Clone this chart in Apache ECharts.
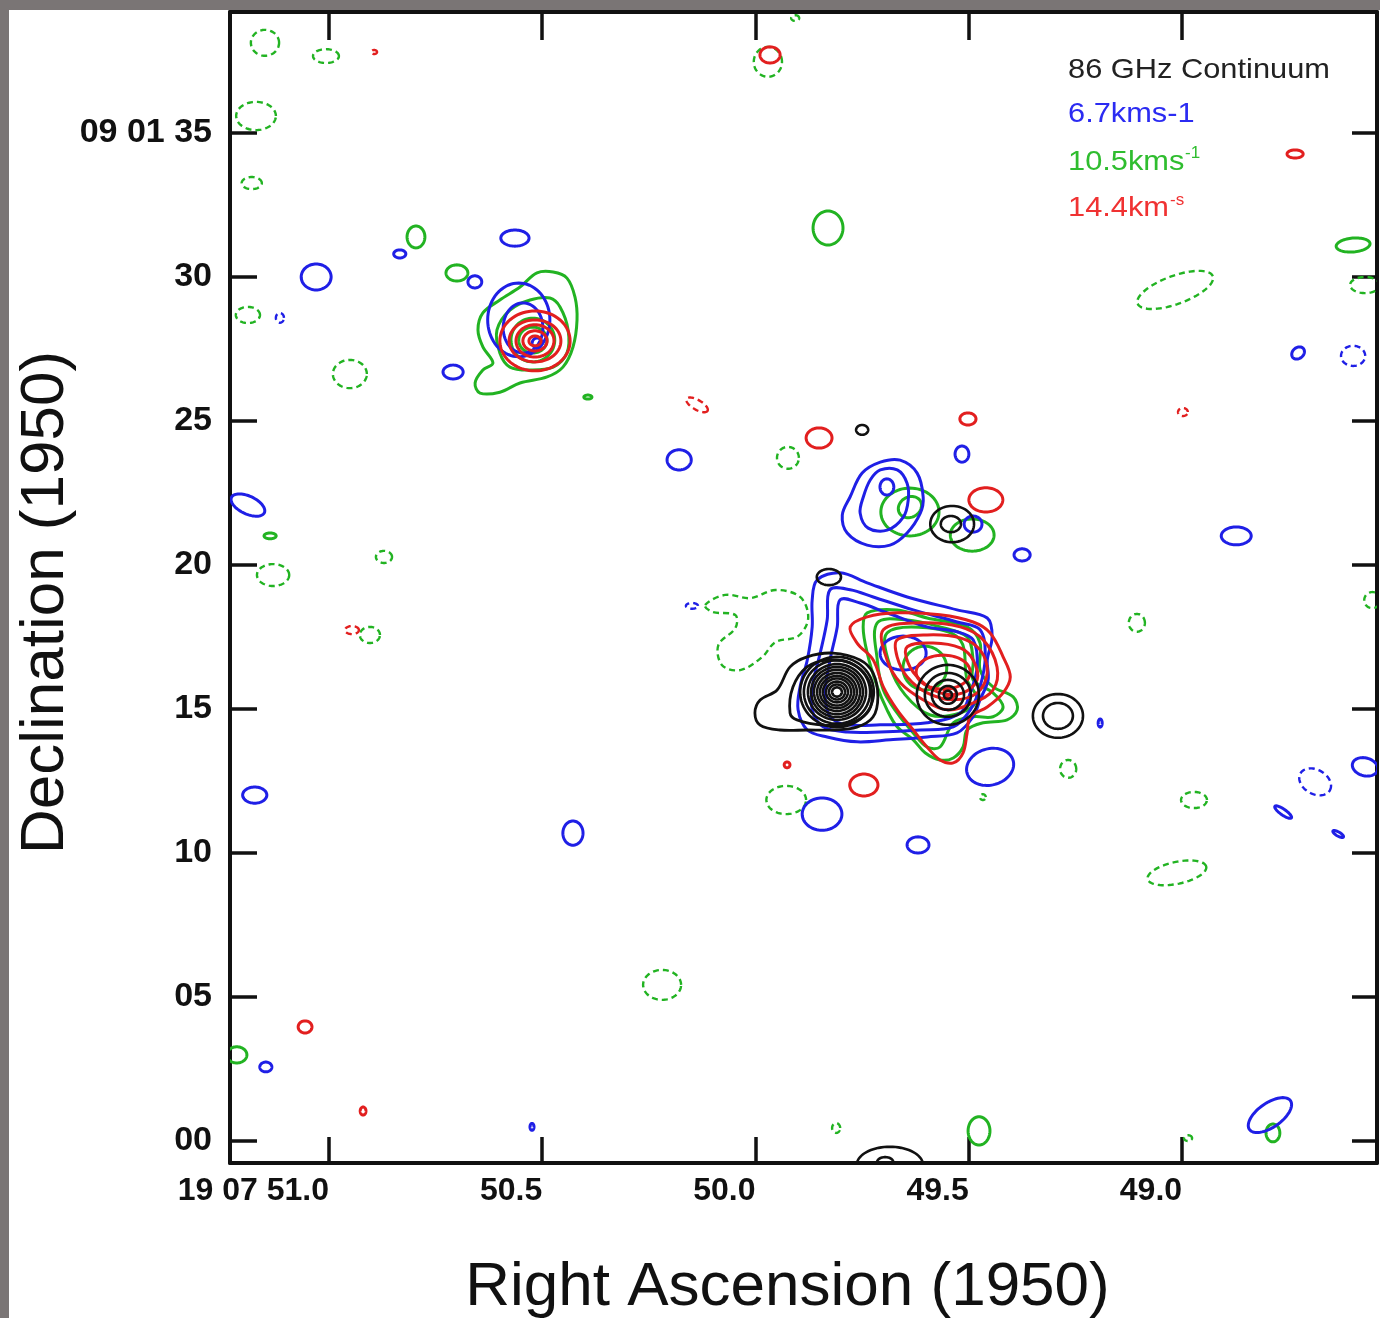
<!DOCTYPE html>
<html><head><meta charset="utf-8">
<script src="https://cdn.jsdelivr.net/npm/echarts@6/dist/echarts.min.js"></script>
<style>
html,body{margin:0;padding:0;width:1380px;height:1318px;overflow:hidden;background:#7a7575;}
#paper{position:absolute;left:9px;top:10px;width:1371px;height:1308px;background:#fff;}
#chart{position:absolute;left:0;top:0;width:1380px;height:1318px;}
</style></head><body>
<div id="paper"></div><div id="chart"></div>
<script>
// ---- axis ticks (RA in seconds of time after 19h07m, Dec in arcsec after +09d01m) ----
const raTicks = [51.0, 50.5, 50.0, 49.5, 49.0];
const raTickLabels = ['19 07 51.0', '50.5', '50.0', '49.5', '49.0'];
const decTicks = [0, 5, 10, 15, 20, 25, 30, 35];
const decTickLabels = ['00', '05', '10', '15', '20', '25', '30', '09 01 35'];
const raRange = [48.543, 51.232];
const decRange = [-0.764, 39.20];

// ---- contours: ellipses [RA s, Dec", semi-axis a", semi-axis b", angle deg, level sign] ----
const blueEllipses = [
  [50.564, 31.35, 0.49, 0.28, 0, 1], [50.834, 30.80, 0.21, 0.14, 0, 1], [51.030, 30.00, 0.52, 0.45, 0, 1],
  [50.658, 29.83, 0.24, 0.21, 0, 1], [51.115, 28.58, 0.14, 0.17, 0, -1], [50.709, 26.70, 0.35, 0.24, 0, 1],
  [50.555, 28.51, 1.08, 1.28, 0, 1], [50.545, 28.23, 0.69, 0.87, 0, 1], [50.512, 27.71, 0.17, 0.17, 0, 1],
  [50.179, 23.65, 0.42, 0.35, 0, 1], [49.516, 23.85, 0.24, 0.28, 0, 1], [49.692, 22.71, 0.24, 0.28, 0, 1],
  [49.490, 21.42, 0.31, 0.28, 0, 1], [49.375, 20.35, 0.28, 0.21, 0, 1], [49.654, 16.94, 0.80, 0.59, 0, 1],
  [49.192, 14.51, 0.07, 0.14, 0, 1], [50.149, 18.58, 0.21, 0.10, 0, -1], [49.844, 11.35, 0.69, 0.56, 0, 1],
  [49.619, 10.28, 0.38, 0.28, 0, 1], [49.450, 12.99, 0.83, 0.63, 15, 1], [48.873, 21.01, 0.52, 0.31, 0, 1],
  [48.728, 27.36, 0.24, 0.19, 40, 1], [48.599, 27.26, 0.42, 0.35, 0, -1], [50.428, 10.69, 0.35, 0.42, 0, 1],
  [51.174, 12.01, 0.42, 0.28, 0, 1], [51.190, 22.08, 0.63, 0.31, -25, 1], [51.148, 2.57, 0.21, 0.17, 0, 1],
  [50.524, 0.49, 0.07, 0.12, 0, 1], [48.794, 0.90, 0.87, 0.42, 35, 1], [48.688, 12.47, 0.59, 0.42, -30, -1],
  [48.571, 12.99, 0.45, 0.31, -15, 1], [48.763, 11.42, 0.35, 0.10, -35, 1], [48.634, 10.66, 0.21, 0.07, -30, 1]
];
const greenEllipses = [
  [51.150, 38.13, 0.49, 0.45, 0, -1], [51.007, 37.67, 0.45, 0.24, 0, -1], [51.171, 35.59, 0.69, 0.49, 0, -1],
  [51.181, 33.26, 0.35, 0.21, 0, -1], [50.796, 31.39, 0.31, 0.38, 0, 1], [50.700, 30.14, 0.38, 0.28, 0, 1],
  [51.190, 28.68, 0.42, 0.28, 0, -1], [50.951, 26.63, 0.59, 0.49, 0, -1], [50.393, 25.83, 0.14, 0.07, 0, 1],
  [50.522, 27.81, 0.76, 0.76, 0, 1], [50.522, 27.81, 0.49, 0.45, 0, 1], [49.924, 23.72, 0.38, 0.38, 0, -1],
  [49.638, 21.84, 1.01, 0.83, 0, 1], [49.638, 22.01, 0.42, 0.35, 30, 1], [49.492, 21.04, 0.76, 0.56, 0, 1],
  [49.603, 16.42, 0.76, 0.76, 0, 1], [49.928, 11.84, 0.69, 0.49, 0, -1], [49.467, 11.94, 0.10, 0.10, 0, -1],
  [49.267, 12.92, 0.28, 0.31, 0, -1], [49.106, 17.99, 0.28, 0.31, 0, -1], [49.016, 29.55, 1.39, 0.49, 20, -1],
  [48.599, 31.11, 0.59, 0.24, 5, 1], [48.571, 29.72, 0.52, 0.28, 0, -1], [49.830, 31.70, 0.52, 0.59, 0, 1],
  [49.971, 37.47, 0.49, 0.52, 0, -1], [49.907, 38.99, 0.14, 0.10, 0, -1], [51.138, 21.01, 0.21, 0.10, 0, 1],
  [51.131, 19.65, 0.56, 0.38, 0, -1], [50.871, 20.28, 0.28, 0.21, 0, -1], [50.904, 17.57, 0.35, 0.28, 0, -1],
  [50.219, 5.42, 0.66, 0.52, 0, -1], [51.216, 2.99, 0.35, 0.28, 0, 1], [49.811, 0.45, 0.14, 0.17, 0, -1],
  [49.476, 0.35, 0.38, 0.49, 0, 1], [48.787, 0.28, 0.24, 0.31, 0, 1], [48.986, 0.10, 0.14, 0.10, 0, -1],
  [48.972, 11.84, 0.45, 0.28, 0, -1], [49.012, 9.31, 1.04, 0.38, 12, -1], [48.554, 18.78, 0.28, 0.28, 0, -1]
];
const redEllipses = [
  [50.894, 37.81, 0.10, 0.07, 0, -1], [50.517, 27.78, 1.22, 1.04, 0, 1], [50.517, 27.78, 0.90, 0.73, 0, 1],
  [50.517, 27.78, 0.66, 0.56, 0, 1], [50.517, 27.78, 0.42, 0.35, 0, 1], [50.517, 27.78, 0.21, 0.17, 0, 1],
  [50.137, 25.56, 0.42, 0.17, -30, -1], [49.851, 24.41, 0.45, 0.35, 0, 1], [49.502, 25.07, 0.28, 0.21, 0, 1],
  [49.460, 22.26, 0.59, 0.42, 0, 1], [49.560, 16.28, 0.94, 0.59, 0, 1], [49.544, 15.56, 0.21, 0.17, 0, 1],
  [49.926, 13.06, 0.10, 0.10, 0, 1], [49.746, 12.36, 0.49, 0.38, 0, 1], [48.735, 34.27, 0.28, 0.14, 0, 1],
  [48.998, 25.31, 0.17, 0.14, 0, -1], [49.966, 37.71, 0.35, 0.28, 0, 1], [50.946, 17.74, 0.24, 0.14, 0, -1],
  [51.056, 3.96, 0.24, 0.21, 0, 1], [50.920, 1.04, 0.10, 0.14, 0, 1]
];
const blackEllipses = [
  [49.750, 24.69, 0.21, 0.17, 0, 1], [49.539, 21.42, 0.76, 0.63, 0, 1], [49.542, 21.42, 0.35, 0.28, 0, 1],
  [49.828, 19.58, 0.42, 0.28, 0, 1],
  [49.809, 15.59, 1.28, 1.22, 0, 1], [49.809, 15.59, 1.15, 1.10, 0, 1], [49.809, 15.59, 1.01, 0.97, 0, 1],
  [49.809, 15.59, 0.90, 0.87, 0, 1], [49.809, 15.59, 0.80, 0.77, 0, 1], [49.809, 15.59, 0.69, 0.66, 0, 1],
  [49.809, 15.59, 0.59, 0.56, 0, 1], [49.809, 15.59, 0.49, 0.47, 0, 1], [49.809, 15.59, 0.38, 0.36, 0, 1],
  [49.809, 15.59, 0.28, 0.26, 0, 1], [49.809, 15.59, 0.17, 0.16, 0, 1],
  [49.549, 15.49, 1.08, 1.04, 0, 1], [49.549, 15.49, 0.80, 0.76, 0, 1], [49.549, 15.49, 0.56, 0.52, 0, 1],
  [49.549, 15.49, 0.31, 0.31, 0, 1], [49.549, 15.49, 0.14, 0.14, 0, 1],
  [49.291, 14.76, 0.87, 0.76, 0, 1], [49.291, 14.76, 0.52, 0.45, 0, 1],
  [49.685, -0.83, 1.15, 0.63, 0, 1], [49.696, -0.73, 0.28, 0.17, 0, 1]
];

// ---- irregular contours: [RA0 s, Dec0", [[west offset", north offset"], ...], level sign] ----
const bluePolys = [
  [49.696, 22.08, [[-0.17,1.49],[0.52,1.56],[1.11,1.11],[1.32,0.28],[1.22,-0.28],[0.76,-0.97],[0.17,-1.39],[-0.63,-1.39],[-1.32,-0.97],[-1.49,-0.35],[-1.22,0.28],[-0.8,1.11]], 1],
  [49.696, 22.08, [[-0.17,1.22],[0.42,1.22],[0.76,0.76],[0.8,0.17],[0.63,-0.42],[0.07,-0.87],[-0.59,-0.8],[-0.87,-0.28],[-0.76,0.28],[-0.52,0.87]], 1],
  [49.614, 16.01, [[-3.58,3.47],[-2.78,3.72],[-1.84,3.37],[-0.45,2.88],[1.28,2.43],[2.33,2.15],[2.5,1.49],[2.33,0.69],[2.36,0],[2.08,-0.69],[1.84,-1.28],[1.28,-1.84],[0.24,-1.98],[-1.04,-2.08],[-2.19,-2.15],[-3.23,-1.98],[-3.92,-1.74],[-4.24,-1.04],[-4.17,-0.24],[-3.92,0.69],[-3.75,1.84],[-3.75,2.78]], 1],
  [49.614, 16.01, [[-3.13,3.13],[-2.43,3.13],[-1.63,2.88],[-0.24,2.43],[1.28,2.01],[2.08,1.74],[2.26,0.8],[2.08,-0.24],[1.74,-1.04],[1.15,-1.63],[0,-1.74],[-1.39,-1.81],[-2.53,-1.81],[-3.37,-1.63],[-3.75,-1.04],[-3.72,-0.1],[-3.47,0.94],[-3.23,2.08]], 1],
  [49.614, 16.01, [[-2.78,2.78],[-2.08,2.67],[-1.15,2.33],[0.24,1.84],[1.28,1.67],[1.84,1.39],[1.98,0.45],[1.74,-0.45],[1.39,-1.15],[0.24,-1.49],[-1.39,-1.56],[-2.53,-1.56],[-3.13,-1.28],[-3.3,-0.45],[-3.13,0.69],[-2.88,1.84]], 1]
];
const greenPolys = [
  [50.517, 27.81, [[-0.52,1.84],[0.07,2.33],[0.63,2.36],[1.11,2.15],[1.39,1.49],[1.46,0.69],[1.32,-0.24],[0.97,-0.94],[0.42,-1.28],[-0.52,-1.49],[-1.22,-1.81],[-1.91,-1.84],[-2.08,-1.49],[-1.81,-1.04],[-1.46,-0.8],[-1.81,-0.24],[-1.98,0.35],[-1.81,0.94],[-1.22,1.39]], 1],
  [50.517, 27.81, [[-0.87,1.04],[-0.17,1.39],[0.52,1.46],[0.87,1.15],[1.15,0.35],[1.11,-0.45],[0.63,-0.94],[-0.17,-1.04],[-0.87,-0.94],[-1.22,-0.45],[-1.32,0.35]], 1],
  [49.614, 16.01, [[-1.84,2.33],[-0.8,2.43],[0.24,2.15],[1.63,1.84],[2.08,1.28],[2.08,0.35],[2.53,-0.24],[3.23,-0.59],[3.37,-1.04],[3.02,-1.39],[2.19,-1.49],[1.63,-1.74],[1.49,-2.33],[1.15,-2.71],[0.69,-2.78],[0.17,-2.53],[-0.24,-2.08],[-0.8,-1.63],[-1.15,-1.04],[-1.49,-0.24],[-1.84,0.94],[-1.98,1.84]], 1],
  [49.614, 16.01, [[-1.49,1.98],[-0.45,2.08],[0.69,1.84],[1.63,1.49],[1.84,0.69],[1.84,0],[2.53,-0.45],[2.88,-0.94],[2.53,-1.28],[1.84,-1.28],[1.15,-1.49],[0.69,-2.33],[0.24,-2.33],[-0.24,-1.84],[-0.8,-1.15],[-1.28,-0.35],[-1.49,0.69]], 1],
  [49.614, 16.01, [[-1.15,1.63],[0.24,1.81],[1.39,1.39],[1.63,0],[1.98,-0.69],[1.39,-1.15],[0.35,-1.22],[-0.52,-0.52],[-1.04,0.45]], 1],
  [49.996, 17.74, [[-1.81,0.87],[-1.11,1.22],[-0.24,1.11],[0.63,1.39],[1.49,1.15],[1.77,0.42],[1.42,-0.21],[0.63,-0.42],[0.17,-0.94],[-0.59,-1.39],[-1.22,-1.22],[-1.35,-0.52],[-0.76,0.07],[-0.76,0.52],[-1.56,0.63]], -1]
];
const redPolys = [
  [49.614, 16.01, [[-2.43,1.84],[-1.84,2.19],[-0.8,2.33],[0.69,2.26],[1.84,2.01],[2.43,1.63],[2.88,0.8],[3.13,0.1],[2.88,-0.45],[2.33,-0.94],[1.74,-1.28],[1.63,-1.84],[1.49,-2.53],[1.15,-2.88],[0.69,-2.78],[0.24,-2.33],[-0.24,-1.74],[-0.8,-1.04],[-1.28,-0.24],[-1.63,0.69],[-2.19,1.28]], 1],
  [49.614, 16.01, [[-1.28,1.74],[0,1.98],[1.39,1.84],[2.19,1.39],[2.67,0.45],[2.53,-0.35],[1.84,-0.8],[0.94,-1.04],[0.1,-0.69],[-0.69,-0.1],[-1.15,0.69]], 1],
  [49.614, 16.01, [[-0.8,1.39],[0.24,1.56],[1.39,1.46],[2.08,1.04],[2.33,0.24],[1.98,-0.45],[1.15,-0.69],[0.24,-0.45],[-0.45,0.1],[-0.8,0.8]], 1],
  [49.614, 16.01, [[-0.45,1.15],[0.45,1.28],[1.39,1.11],[1.84,0.69],[1.98,0],[1.49,-0.45],[0.69,-0.45],[0,0],[-0.42,0.59]], 1]
];
const blackPolys = [
  [49.809, 15.59, [[-2.67,-0.28],[-2.08,0.07],[-1.63,0.87],[-1.04,1.22],[-0.14,1.35],[0.8,1.11],[1.25,0.66],[1.42,-0.17],[1.25,-0.87],[0.69,-1.22],[-0.14,-1.32],[-1.04,-1.32],[-1.98,-1.32],[-2.67,-1.15],[-2.85,-0.73]], 1],
  [49.809, 15.59, [[-1.63,-0.73],[-1.53,0.17],[-1.04,0.87],[-0.35,1.11],[0.45,1.01],[1.04,0.52],[1.22,-0.17],[1.04,-0.73],[0.45,-1.08],[-0.49,-1.15],[-1.39,-0.97]], 1]
];

const ARCSEC_PER_RA_SEC = 15 * Math.cos((9 + 1.5 / 60) * Math.PI / 180);
const COLORS = { blue: '#1f1fe6', green: '#22b322', red: '#e21f1f', black: '#111111' };
const FONT = '"Liberation Sans", Arial, Helvetica, sans-serif';

function strokeStyle(color, sign, w) {
  return sign < 0
    ? { fill: 'none', stroke: color, lineWidth: 2.4, lineDash: [6, 4] }
    : { fill: 'none', stroke: color, lineWidth: w };
}
function ellipseSeries(name, color, list, w) {
  return {
    type: 'custom', name, coordinateSystem: 'cartesian2d', clip: true, silent: true,
    encode: { x: 0, y: 1 }, data: list,
    renderItem(params, api) {
      const ra0 = api.value(0), dec0 = api.value(1), a = api.value(2), b = api.value(3);
      const th = api.value(4) * Math.PI / 180, sign = api.value(5);
      const pts = [];
      for (let i = 0; i < 72; i++) {
        const t = i / 72 * 2 * Math.PI, x = a * Math.cos(t), y = b * Math.sin(t);
        const west = x * Math.cos(th) - y * Math.sin(th), north = x * Math.sin(th) + y * Math.cos(th);
        pts.push(api.coord([ra0 - west / ARCSEC_PER_RA_SEC, dec0 + north]));
      }
      return { type: 'polygon', shape: { points: pts }, style: strokeStyle(color, sign, w) };
    }
  };
}
function polySeries(name, color, list, w) {
  return {
    type: 'custom', name, coordinateSystem: 'cartesian2d', clip: true, silent: true,
    encode: { x: 0, y: 1 }, data: list.map((p, i) => [p[0], p[1], i]),
    renderItem(params, api) {
      const p = list[api.value(2)];
      const pts = p[2].map(o => api.coord([p[0] - o[0] / ARCSEC_PER_RA_SEC, p[1] + o[1]]));
      return { type: 'polygon', shape: { points: pts, smooth: 0.35 }, style: strokeStyle(color, p[3], w) };
    }
  };
}
const pick = (ticks, labels) => v => { const i = ticks.findIndex(t => Math.abs(t - v) < 1e-6); return i >= 0 ? labels[i] : ''; };
const axisLine = { show: true, onZero: false, lineStyle: { color: '#111', width: 4 } };

const chart = echarts.init(document.getElementById('chart'), null, { renderer: 'canvas' });
chart.setOption({
  backgroundColor: 'transparent',
  animation: false,
  grid: { left: 230, right: 3, top: 12, bottom: 155, containLabel: false, outerBoundsMode: 'none' },
  xAxis: [
    { type: 'value', position: 'bottom', min: raRange[0], max: raRange[1], inverse: true,
      axisLine, splitLine: { show: false },
      axisTick: { show: true, inside: true, length: 26, lineStyle: { color: '#111', width: 3.5 }, customValues: raTicks },
      axisLabel: { customValues: raTicks, formatter: pick(raTicks, raTickLabels), color: '#111', fontSize: 32, fontWeight: 'bold', fontFamily: FONT, margin: 12, align: 'right' },
      name: 'Right Ascension (1950)', nameLocation: 'middle', nameGap: 94, nameMoveOverlap: false,
      nameTextStyle: { fontSize: 62, color: '#111', fontFamily: FONT, padding: [0, 32, 0, 0] } },
    { type: 'value', position: 'top', min: raRange[0], max: raRange[1], inverse: true,
      axisLine, splitLine: { show: false },
      axisTick: { show: true, inside: true, length: 28, lineStyle: { color: '#111', width: 3.5 }, customValues: raTicks },
      axisLabel: { show: false } }
  ],
  yAxis: [
    { type: 'value', position: 'left', min: decRange[0], max: decRange[1],
      axisLine, splitLine: { show: false },
      axisTick: { show: true, inside: true, length: 27, lineStyle: { color: '#111', width: 3.5 }, customValues: decTicks },
      axisLabel: { customValues: decTicks, formatter: pick(decTicks, decTickLabels), color: '#111', fontSize: 34, fontWeight: 'bold', fontFamily: FONT, margin: 18 },
      name: 'Declination (1950)', nameLocation: 'middle', nameGap: 153, nameRotate: 90, nameMoveOverlap: false,
      nameTextStyle: { fontSize: 62, color: '#111', fontFamily: FONT, padding: [0, 30, 0, 0] } },
    { type: 'value', position: 'right', min: decRange[0], max: decRange[1],
      axisLine, splitLine: { show: false },
      axisTick: { show: true, inside: true, length: 25, lineStyle: { color: '#111', width: 3.5 }, customValues: decTicks },
      axisLabel: { show: false } }
  ],
  graphic: [
    { type: 'text', x: 1068, y: 56, scaleX: 1.1, style: { text: '86 GHz Continuum', fill: '#222', fontSize: 28, fontFamily: FONT } },
    { type: 'text', x: 1068, y: 100, scaleX: 1.1, style: { text: '6.7kms-1', fill: '#2b2bf2', fontSize: 28, fontFamily: FONT } },
    { type: 'text', x: 1068, y: 148, scaleX: 1.1, style: { text: '10.5kms', fill: '#2fbd2f', fontSize: 28, fontFamily: FONT } },
    { type: 'text', x: 1185, y: 145, style: { text: '-1', fill: '#2fbd2f', fontSize: 17, fontFamily: FONT } },
    { type: 'text', x: 1068, y: 194, scaleX: 1.1, style: { text: '14.4km', fill: '#f03232', fontSize: 28, fontFamily: FONT } },
    { type: 'text', x: 1170, y: 192, style: { text: '-s', fill: '#f03232', fontSize: 17, fontFamily: FONT } }
  ],
  series: [
    ellipseSeries('10.5 km/s', COLORS.green, greenEllipses, 3),
    polySeries('10.5 km/s contours', COLORS.green, greenPolys, 3),
    ellipseSeries('6.7 km/s', COLORS.blue, blueEllipses, 3),
    polySeries('6.7 km/s contours', COLORS.blue, bluePolys, 3),
    ellipseSeries('14.4 km/s', COLORS.red, redEllipses, 3),
    polySeries('14.4 km/s contours', COLORS.red, redPolys, 3),
    ellipseSeries('86 GHz continuum', COLORS.black, blackEllipses, 2.6),
    polySeries('86 GHz continuum contours', COLORS.black, blackPolys, 2.8)
  ]
});
</script></body></html>
